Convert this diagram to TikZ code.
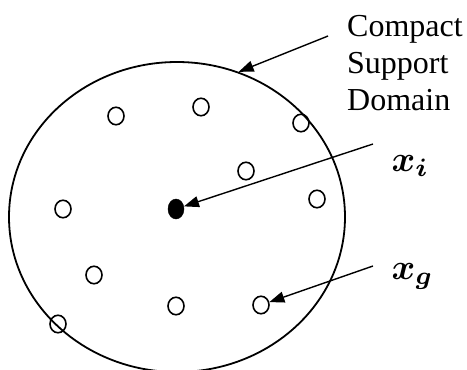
\documentclass[tikz,border=0pt]{standalone}
\usepackage{amsmath}
\usepackage{bm}
\usepackage{fontspec}
\setmainfont{Liberation Serif}
\usetikzlibrary{shapes.geometric,arrows.meta}
\begin{document}
\begin{tikzpicture}[x=1pt,y=-1pt,
  pt/.style={draw,line width=1.6pt,ellipse,minimum width=16pt,minimum height=17.5pt,inner sep=0pt},
  arr/.style={line width=1.4pt,-{Triangle[length=15pt,width=11pt]}},
  lbl/.style={anchor=base west,inner sep=0pt,font=\fontsize{32}{37}\selectfont},
  mlbl/.style={anchor=base west,inner sep=0pt,scale=3.6}]
\useasboundingbox (0,0) rectangle (467,370);
\node[draw,ellipse,line width=1.8pt,minimum width=336pt,minimum height=310pt,inner sep=0pt] (dom) at (177,217) {};
\node[pt] (p1) at (116,116) {};
\node[pt] (p2) at (201,107) {};
\node[pt] (p3) at (301,123) {};
\node[pt] (p4) at (246,171) {};
\node[pt] (p5) at (317,199) {};
\node[pt] (p6) at (63,209) {};
\node[pt] (p7) at (94,275) {};
\node[pt] (p8) at (176,306) {};
\node[pt] (pg) at (261,305) {};
\node[pt] (p10) at (58,324) {};
\node[draw,fill,ellipse,minimum width=16pt,minimum height=20pt,inner sep=0pt] (pi) at (176,209) {};
\node[lbl] (t1) at (347,36) {Compact};
\node[lbl] (t2) at (347,73) {Support};
\node[lbl] (t3) at (347,110) {Domain};
\node[mlbl] (lxi) at (391,171) {$\bm{x}_{\bm{i}}$};
\node[mlbl] (lxg) at (391,279) {$\bm{x}_{\bm{g}}$};
\coordinate (a1) at (328,36);
\coordinate (a2) at (373,144);
\coordinate (a3) at (373,266);
\draw[arr] (a1) -- (dom.67);
\draw[arr] (a2) -- (pi);
\draw[arr] (a3) -- (pg);
\end{tikzpicture}
\end{document}
